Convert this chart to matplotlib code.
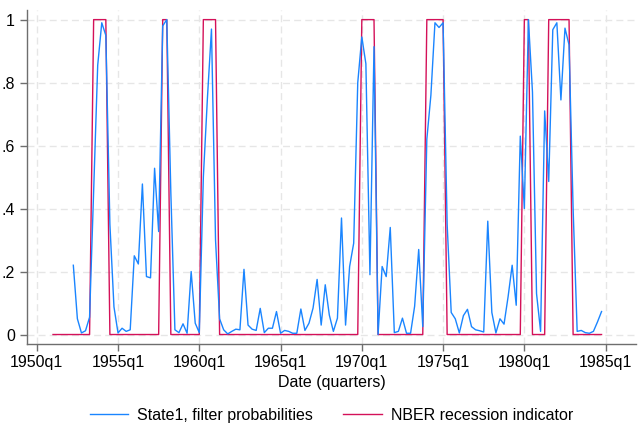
import numpy as np
import pandas as pd
import matplotlib
matplotlib.use("Agg")
import matplotlib.pyplot as plt

plt.rcParams['font.family'] = ['Liberation Sans', 'DejaVu Sans']

# filtered probabilities of state 1, 1952q2 - 1984q4
filt_start = '1952Q2'
filt_prob = [
    0.22, 0.05, 0.005,                      # 1952q2-q4
    0.012, 0.055, 0.45, 0.855,              # 1953
    0.99, 0.95, 0.35, 0.088,                # 1954
    0.005, 0.02, 0.01, 0.015,               # 1955
    0.25, 0.224, 0.478, 0.184,              # 1956
    0.18, 0.528, 0.327, 0.98,               # 1957
    1.0, 0.45, 0.015, 0.006,                # 1958
    0.034, 0.004, 0.2, 0.036,               # 1959
    0.006, 0.5, 0.75, 0.97,                 # 1960
    0.3, 0.05, 0.015, 0.002,                # 1961
    0.01, 0.017, 0.015, 0.207,              # 1962
    0.03, 0.017, 0.013, 0.083,              # 1963
    0.006, 0.02, 0.02, 0.073,               # 1964
    0.004, 0.013, 0.01, 0.004,              # 1965
    0.004, 0.081, 0.013, 0.036,             # 1966
    0.084, 0.175, 0.03, 0.158,              # 1967
    0.062, 0.01, 0.052, 0.37,               # 1968
    0.03, 0.216, 0.29, 0.80,                # 1969
    0.945, 0.86, 0.19, 0.914,               # 1970
    0.0, 0.216, 0.184, 0.34,                # 1971
    0.006, 0.01, 0.052, 0.004,              # 1972
    0.004, 0.09, 0.27, 0.025,               # 1973
    0.62, 0.76, 0.99, 0.975,                # 1974
    0.99, 0.35, 0.07, 0.05,                 # 1975
    0.005, 0.06, 0.08, 0.025,               # 1976
    0.015, 0.012, 0.008, 0.36,              # 1977
    0.07, 0.005, 0.05, 0.033,               # 1978
    0.12, 0.22, 0.093, 0.63,                # 1979
    0.40, 1.0, 0.77, 0.13,                  # 1980
    0.01, 0.71, 0.486, 0.968,               # 1981
    0.99, 0.745, 0.973, 0.92,               # 1982
    0.4, 0.01, 0.013, 0.006,                # 1983
    0.004, 0.01, 0.04, 0.073,               # 1984
]

# NBER recession indicator, 1951q1 - 1984q4
nber_start = '1951Q1'
nber = [
    0, 0, 0, 0,  0, 0, 0, 0,  0, 0, 1, 1,  1, 1, 0, 0,   # 1951-1954
    0, 0, 0, 0,  0, 0, 0, 0,  0, 0, 0, 1,  1, 0, 0, 0,   # 1955-1958
    0, 0, 0, 0,  0, 1, 1, 1,  1, 0, 0, 0,  0, 0, 0, 0,   # 1959-1962
    0, 0, 0, 0,  0, 0, 0, 0,  0, 0, 0, 0,  0, 0, 0, 0,   # 1963-1966
    0, 0, 0, 0,  0, 0, 0, 0,  0, 0, 0, 0,  1, 1, 1, 1,   # 1967-1970
    0, 0, 0, 0,  0, 0, 0, 0,  0, 0, 0, 0,  1, 1, 1, 1,   # 1971-1974
    1, 0, 0, 0,  0, 0, 0, 0,  0, 0, 0, 0,  0, 0, 0, 0,   # 1975-1978
    0, 0, 0, 0,  1, 1, 0, 0,  0, 0, 1, 1,  1, 1, 1, 1,   # 1979-1982
    0, 0, 0, 0,  0, 0, 0, 0,                             # 1983-1984
]

tick_years = [1950, 1955, 1960, 1965, 1970, 1975, 1980, 1985]

base = pd.Period('1950Q1', freq='Q')
def qindex(start, n):
    p = pd.period_range(start, periods=n, freq='Q')
    return np.array([(q - base).n for q in p])

x_filt = qindex(filt_start, len(filt_prob))
x_nber = qindex(nber_start, len(nber))

fs = 11.5
fig = plt.figure(figsize=(6.38, 4.24), dpi=100)
ax = fig.add_axes([0.042, 0.188, 0.955, 0.788])

ax.plot(x_filt, filt_prob, color='#1a85ff', lw=1.0, label='State1, filter probabilities', zorder=3)
ax.plot(x_nber, nber, color='#d41159', lw=1.0, label='NBER recession indicator', zorder=2)

xt = [(pd.Period(f'{y}Q1', freq='Q') - base).n for y in tick_years]
ax.set_xticks(xt)
ax.set_xticklabels([f'{y}q1' for y in tick_years])
ax.set_yticks([0, 0.2, 0.4, 0.6, 0.8, 1])
ax.set_yticklabels(['0', '.2', '.4', '.6', '.8', '1'])
ax.set_xlim(-2.45, 147.5)
ax.set_ylim(-0.031, 1.03)

ax.grid(True, color='#e6e6e6', ls=(0, (5, 3)), lw=1.0, zorder=0)
for s in ['top', 'right']:
    ax.spines[s].set_visible(False)
for s in ['left', 'bottom']:
    ax.spines[s].set_color('#6e6e6e')
    ax.spines[s].set_linewidth(1.0)
ax.tick_params(axis='both', colors='#6e6e6e', labelcolor='black', length=5, width=1.0, labelsize=fs)
ax.tick_params(axis='x', pad=3)
ax.set_xlabel('Date (quarters)', fontsize=fs, labelpad=3)

ax.legend(loc='center', bbox_to_anchor=(0.5, -0.212), ncol=2, frameon=False,
          fontsize=fs, handlelength=2.4, handletextpad=0.55, columnspacing=1.9, borderpad=0.0)

fig.savefig('out.png', dpi=100)
